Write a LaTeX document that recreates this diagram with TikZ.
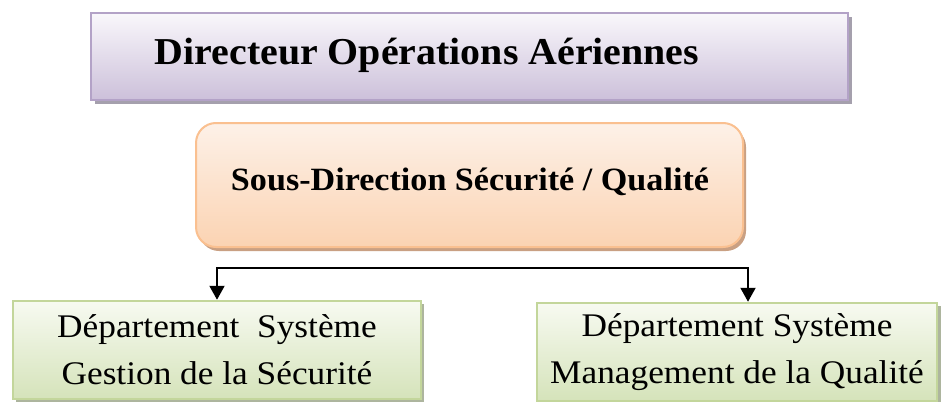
\documentclass[tikz,border=0pt]{standalone}
\usepackage{fontspec}
\setmainfont[FakeStretch=1.05]{Liberation Serif}
\newfontfamily\deptfont[FakeStretch=1.07]{Liberation Serif}
\usetikzlibrary{arrows.meta,calc}
\definecolor{purpB}{HTML}{B3A2C7}
\definecolor{purpT}{HTML}{F9F7FB}
\definecolor{purpF}{HTML}{CCC0DA}
\definecolor{purpS}{HTML}{A5A0AD}
\definecolor{orgB}{HTML}{FAC090}
\definecolor{orgT}{HTML}{FDF1E8}
\definecolor{orgF}{HTML}{FBD3B2}
\definecolor{orgS}{HTML}{C9A083}
\definecolor{grnB}{HTML}{C3D69B}
\definecolor{grnT}{HTML}{F7FAF1}
\definecolor{grnF}{HTML}{D5E3BA}
\definecolor{grnS}{HTML}{ADB59E}
\begin{document}
\begin{tikzpicture}[x=1pt,y=1pt,
  topbox/.style={draw=purpB,line width=2pt,top color=purpT,bottom color=purpF,
    minimum width=757pt,minimum height=87pt,inner sep=0pt},
  midbox/.style={draw=orgB,line width=2pt,top color=orgT,bottom color=orgF,
    rounded corners=20pt,minimum width=547pt,minimum height=124pt,inner sep=0pt},
  deptbox/.style={draw=grnB,line width=2.5pt,top color=grnT,bottom color=grnF,
    minimum height=98pt,inner sep=0pt,align=center,
    font=\deptfont\fontsize{33}{47}\selectfont},
  conn/.style={line width=2pt,{Triangle[width=15pt,length=14pt]}-{Triangle[width=15pt,length=14pt]}}
]
\useasboundingbox (0,0) rectangle (941,-401);
\clip (0,0) rectangle (941,-401);
\fill[white] (0,0) rectangle (941,-401);
% shadows
\fill[purpS] (95,-17) rectangle (852,-104);
\fill[orgS,rounded corners=20pt] (199,-127) rectangle (746,-251);
\fill[grnS] (16,-304) rectangle (424,-403);
\fill[grnS] (540,-306) rectangle (950,-405);
% boxes
\node[topbox] (top) at (469.5,-56.5) {};
\node[font=\bfseries\fontsize{38}{42}\selectfont] (toptxt) at (427,-55) {Directeur Opérations Aériennes};
\node[midbox] (mid) at (469.5,-185) {};
\node[font=\bfseries\fontsize{32.5}{36}\selectfont] (midtxt) at (470,-182) {Sous-Direction Sécurité / Qualité};
\node[deptbox,minimum width=408pt] (L) at (217,-350) {Département\ \ Système\\Gestion de la Sécurité};
\node[deptbox,minimum width=400pt] (R) at (737,-352) {Département Système\\Management de la Qualité};
% connector
\coordinate (hr) at (748,-268);
\draw[conn] (L.north) |- (hr) -- (hr |- R.north);
\end{tikzpicture}
\end{document}
